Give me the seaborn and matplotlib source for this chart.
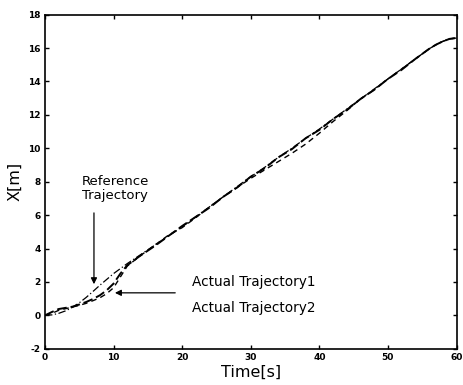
import matplotlib
matplotlib.use("Agg")
import matplotlib.pyplot as plt
import seaborn as sns
import pandas as pd

t = [0, 1, 2, 3, 4, 5, 6, 7, 8, 9, 10, 11, 12, 14, 16, 18, 20, 22, 24, 26, 28, 30,
     32, 34, 36, 38, 40, 42, 44, 46, 48, 50, 52, 54, 56, 57, 58, 59, 60]
ref = [0, 0.03, 0.12, 0.27, 0.48, 0.75, 1.07, 1.43, 1.8, 2.15, 2.5, 2.8, 3.1, 3.65,
       4.2, 4.75, 5.3, 5.9, 6.5, 7.1, 7.7, 8.3, 8.85, 9.45, 10.0, 10.6, 11.15, 11.75,
       12.35, 12.95, 13.55, 14.15, 14.75, 15.35, 15.95, 16.2, 16.4, 16.55, 16.6]
act1 = [0, 0.2, 0.38, 0.45, 0.52, 0.65, 0.8, 0.98, 1.2, 1.5, 1.9, 2.5, 3.0, 3.6,
        4.15, 4.75, 5.35, 5.9, 6.45, 7.1, 7.65, 8.3, 8.8, 9.45, 9.95, 10.6, 11.1,
        11.75, 12.3, 12.95, 13.5, 14.15, 14.7, 15.35, 15.95, 16.2, 16.4, 16.55, 16.6]
act2 = [0, 0.12, 0.3, 0.4, 0.5, 0.6, 0.72, 0.88, 1.05, 1.3, 1.65, 2.3, 2.95, 3.6,
        4.2, 4.8, 5.25, 5.85, 6.5, 7.1, 7.65, 8.2, 8.7, 9.2, 9.7, 10.25, 10.9,
        11.6, 12.25, 12.95, 13.5, 14.15, 14.75, 15.35, 15.95, 16.2, 16.4, 16.55, 16.6]

x_ticks = [0, 10, 20, 30, 40, 50, 60]
y_ticks = [-2, 0, 2, 4, 6, 8, 10, 12, 14, 16, 18]

df = pd.DataFrame({"t": t, "ref": ref, "act1": act1, "act2": act2})

sns.set_style("ticks")
plt.rcParams['font.family'] = ['DejaVu Sans']
plt.rcParams['text.color'] = 'black'
plt.rcParams['axes.labelcolor'] = 'black'
plt.rcParams['xtick.color'] = 'black'
plt.rcParams['ytick.color'] = 'black'

fig = plt.figure(figsize=(4.63, 3.85), dpi=100)
ax = fig.add_axes([0.097, 0.094, 0.889, 0.868])

sns.lineplot(data=df, x="t", y="ref", ax=ax, color="black", linewidth=0.9,
             linestyle=(0, (6, 2, 1, 2)))
sns.lineplot(data=df, x="t", y="act1", ax=ax, color="black", linewidth=1.4,
             linestyle=(0, (5, 2)))
sns.lineplot(data=df, x="t", y="act2", ax=ax, color="black", linewidth=1.0,
             linestyle=(0, (4, 3)))

ax.set_xlim(0, 60)
ax.set_ylim(-2, 18)
ax.set_xticks(x_ticks)
ax.set_yticks(y_ticks)
ax.set_xticklabels([str(v) for v in x_ticks], fontsize=6.5, fontweight="bold")
ax.set_yticklabels([str(v) for v in y_ticks], fontsize=6.5, fontweight="bold")
ax.tick_params(direction="in", length=3, width=1, top=True, right=True, pad=3)
for s in ax.spines.values():
    s.set_visible(True)
    s.set_linewidth(1.2)
    s.set_color("black")

ax.set_xlabel("Time[s]", fontsize=11.5, labelpad=2)
ax.set_ylabel("X[m]", fontsize=11.5, labelpad=4)

ax.text(5.4, 7.6, "Reference\nTrajectory", ha="left", va="center", fontsize=9.5,
        linespacing=1.15)
ax.annotate("", xy=(7.15, 1.7), xytext=(7.15, 6.3),
            arrowprops=dict(arrowstyle="-|>", color="black", lw=0.9,
                            mutation_scale=9))
ax.annotate("", xy=(9.8, 1.35), xytext=(19.4, 1.35),
            arrowprops=dict(arrowstyle="-|>", color="black", lw=0.9,
                            mutation_scale=9))
ax.text(21.5, 2.0, "Actual Trajectory1", ha="left", va="center", fontsize=9.8)
ax.text(21.5, 0.45, "Actual Trajectory2", ha="left", va="center", fontsize=9.8)

fig.savefig("out.png", dpi=100)
